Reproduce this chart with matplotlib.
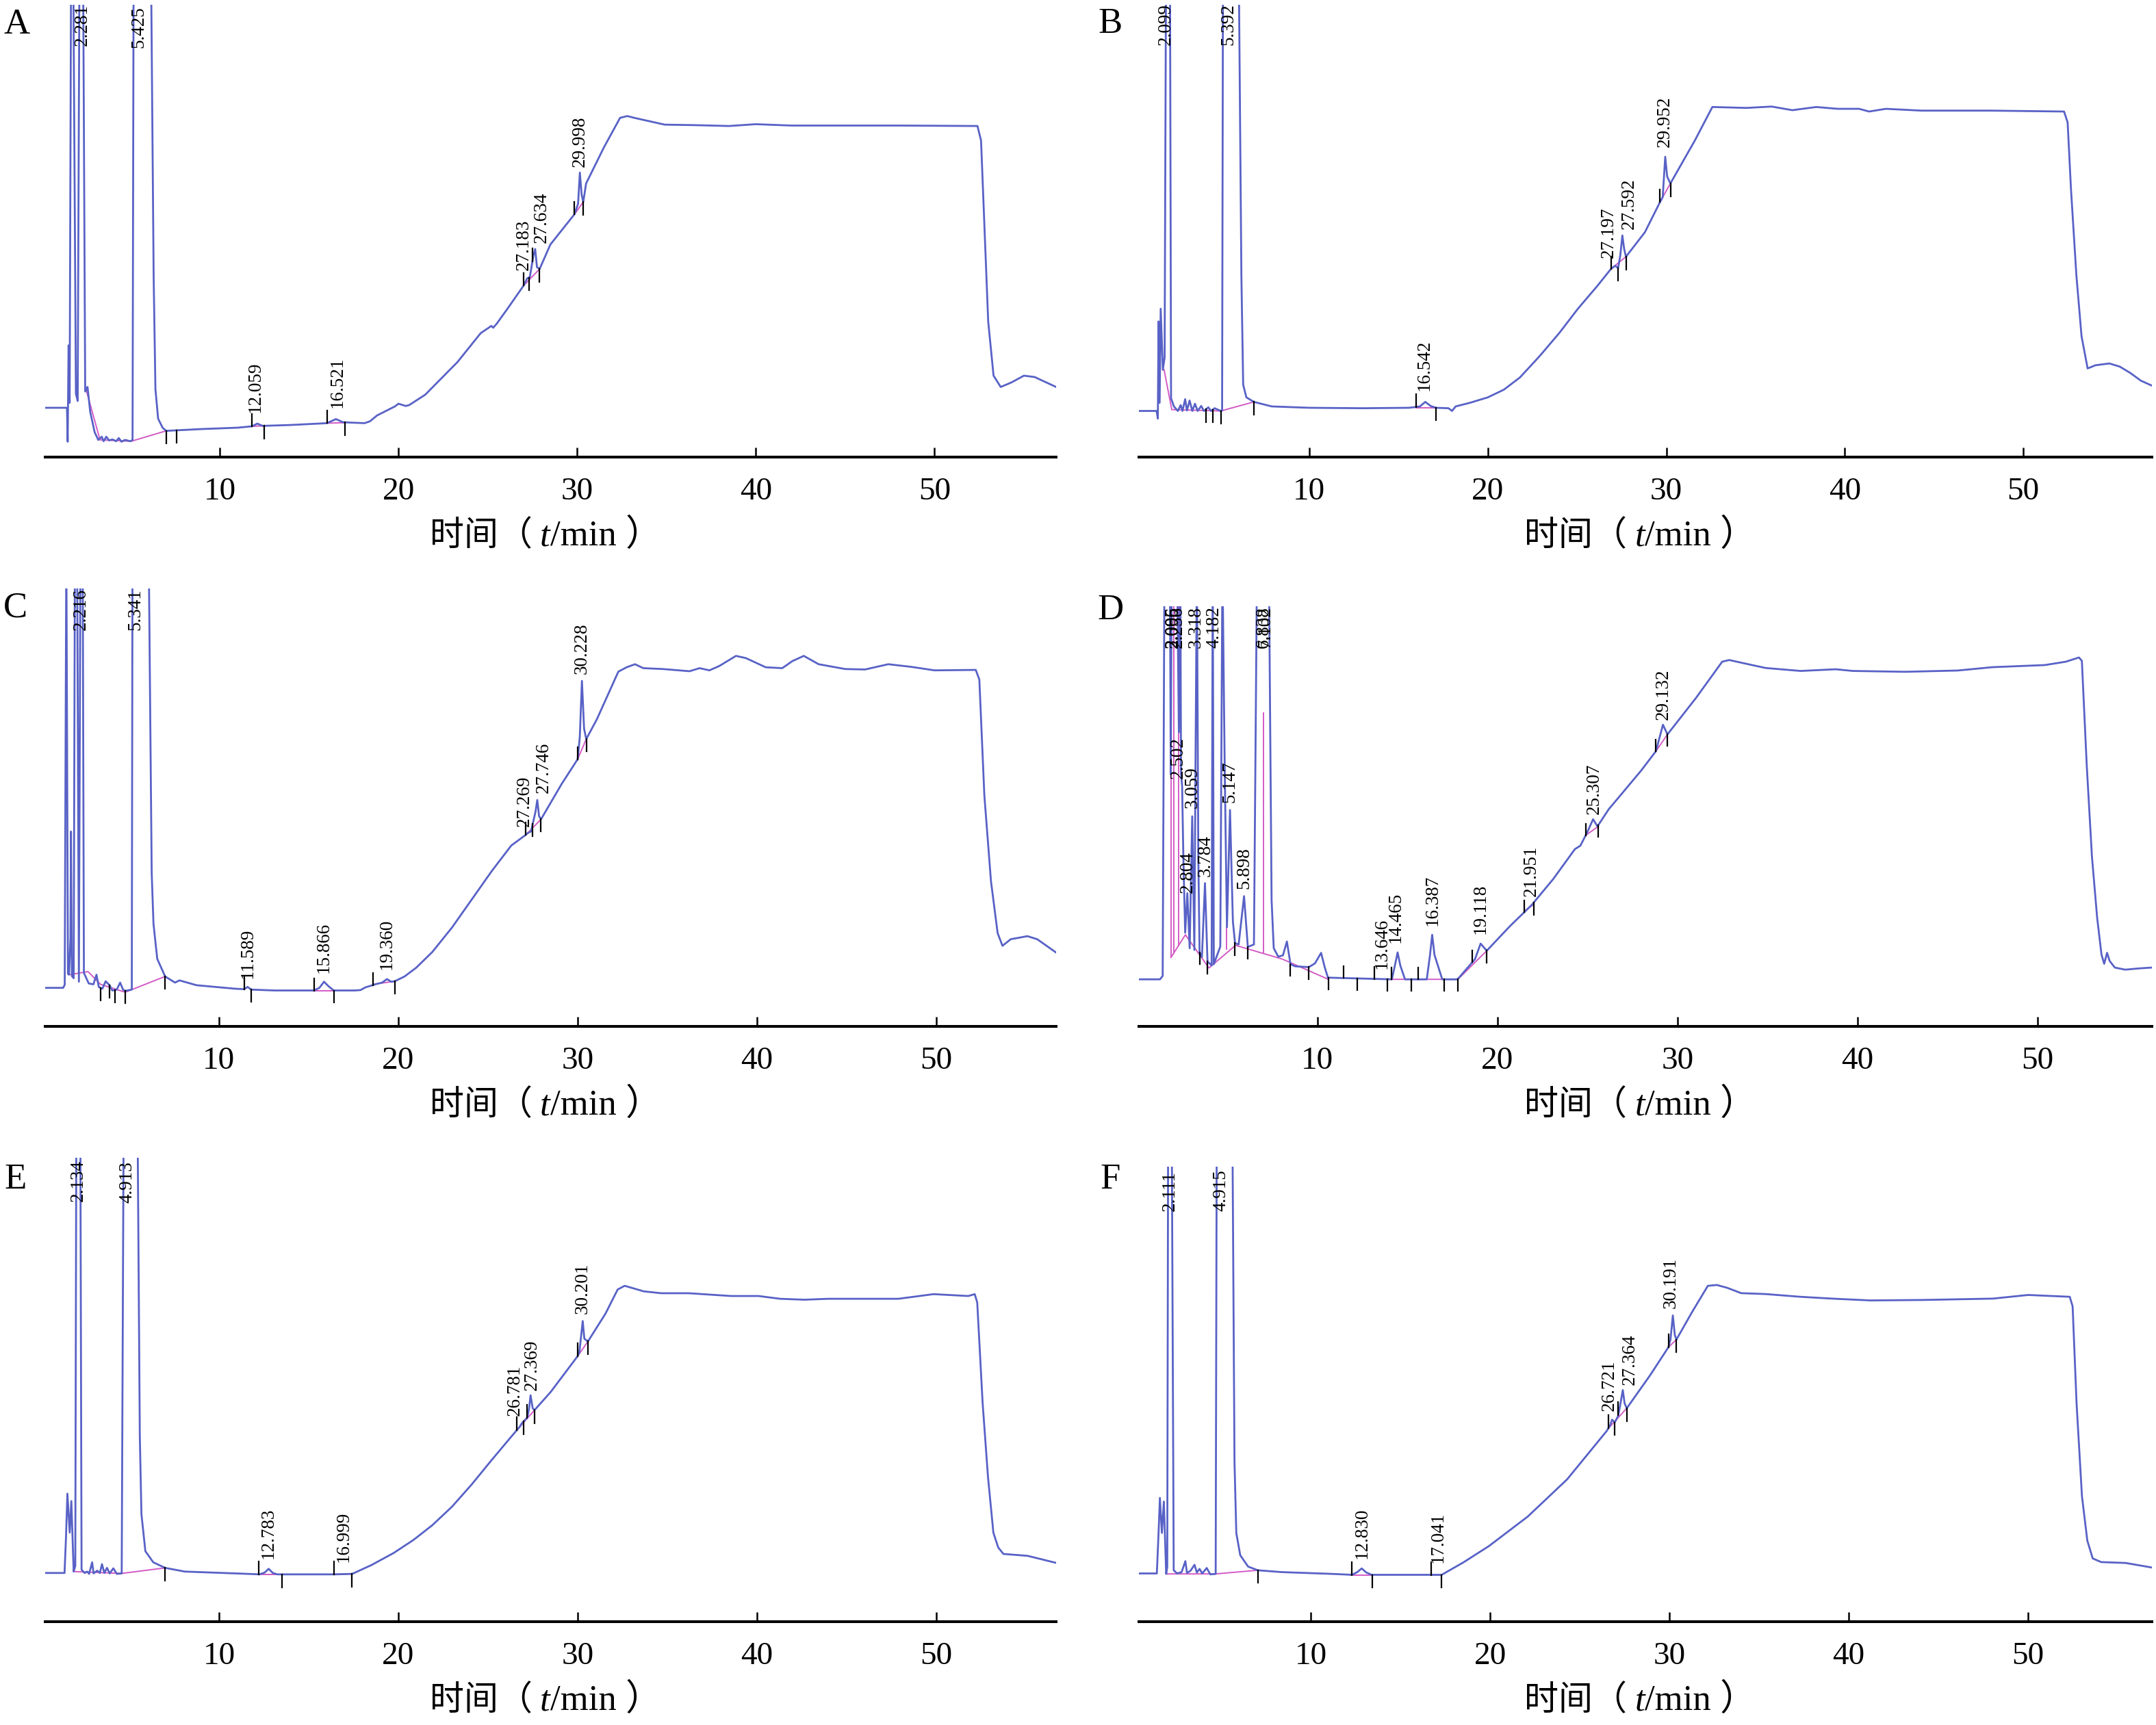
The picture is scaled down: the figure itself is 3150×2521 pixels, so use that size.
import numpy as np
import matplotlib
matplotlib.use("Agg")
import matplotlib.pyplot as plt
from matplotlib.offsetbox import TextArea, HPacker, AnnotationBbox

plt.rcParams['font.family'] = ['Liberation Serif', 'Noto Sans CJK SC']

#---------------------------------------------------------- traces (time / min, signal as % of panel height)
A_trace = [(0.25, 10.9), (1.35, 10.9), (1.45, 10.9), (1.49, 3.4), (1.54, 24.7), (1.60, 12.0), (1.68, 110),
           (1.80, 110), (1.95, 14.0), (2.05, 12.4), (2.15, 110), (2.35, 110), (2.47, 14.5), (2.60, 15.5),
           (2.75, 10.0), (3.00, 5.5), (3.20, 3.8), (3.40, 4.5), (3.50, 3.5), (3.65, 4.5), (3.80, 3.7),
           (4.00, 3.9), (4.20, 3.5), (4.35, 4.2), (4.50, 3.4), (4.70, 3.8), (5.00, 3.5), (5.12, 3.8),
           (5.18, 110), (6.15, 110), (6.30, 40), (6.40, 15), (6.55, 8.5), (6.80, 6.5), (7.00, 5.8),
           (7.50, 5.9), (9.00, 6.2), (11.0, 6.5), (11.8, 6.8), (12.1, 7.4), (12.4, 6.9), (14.0, 7.1),
           (16.0, 7.5), (16.5, 8.4), (16.9, 7.7), (18.1, 7.5), (18.4, 7.9), (18.8, 9.2), (19.8, 11.2),
           (20.0, 11.8), (20.4, 11.3), (20.6, 11.5), (21.5, 13.8), (22.2, 16.6), (23.3, 21.0), (24.6, 27.4),
           (25.2, 29.0), (25.3, 28.6), (25.5, 29.5), (26.1, 32.8), (27.0, 37.9), (27.2, 39.5), (27.35, 39.8),
           (27.55, 44.5), (27.65, 46.0), (27.75, 42.0), (27.9, 41.6), (28.5, 47.0), (29.85, 53.7),
           (30.05, 56.0), (30.15, 62.9), (30.25, 58.0), (30.34, 56.4), (30.5, 60.5), (30.7, 62.1),
           (31.5, 68.5), (32.4, 75.0), (32.8, 75.4), (33.2, 75.0), (34.9, 73.5), (36.5, 73.4), (38.5, 73.2),
           (40.0, 73.6), (42.0, 73.3), (45.0, 73.3), (48.0, 73.3), (52.4, 73.2), (52.6, 70.0), (52.8, 50.0),
           (53.0, 30.0), (53.3, 18.0), (53.7, 15.5), (54.3, 16.5), (55.0, 18.0), (55.6, 17.7), (56.8, 15.5)]

B_trace = [(0.46, 10.2), (1.45, 10.2), (1.52, 8.5), (1.56, 30), (1.62, 12), (1.68, 32.8), (1.80, 19.3),
           (1.90, 22), (1.98, 110), (2.20, 110), (2.26, 13), (2.42, 11.2), (2.64, 10.2), (2.80, 11.5),
           (2.90, 10.2), (3.05, 12.8), (3.15, 10.3), (3.30, 12.5), (3.45, 10.2), (3.60, 11.8), (3.75, 10.2),
           (3.95, 11.3), (4.10, 10.2), (4.35, 11.0), (4.50, 10.2), (4.70, 10.8), (5.05, 10.2), (5.12, 10.3),
           (5.17, 110), (6.05, 110), (6.20, 40), (6.30, 16), (6.48, 13.2), (6.90, 12.2), (7.90, 11.2),
           (10.0, 10.9), (13.0, 10.8), (15.6, 10.9), (16.2, 11.2), (16.5, 12.2), (16.8, 11.3), (17.1, 10.9),
           (17.8, 10.8), (18.0, 10.2), (18.2, 11.2), (19.0, 12.0), (20.0, 13.2), (20.9, 14.9), (21.8, 17.6),
           (22.9, 22.3), (24.0, 27.4), (25.05, 32.8), (26.15, 37.9), (26.9, 41.6), (27.14, 42.3),
           (27.3, 41.8), (27.42, 44.5), (27.54, 49.0), (27.64, 46.0), (27.74, 44.3), (28.8, 49.7),
           (29.65, 56.4), (29.8, 57.5), (29.94, 66.4), (30.05, 62.0), (30.23, 60.5), (31.6, 70.0),
           (32.58, 77.4), (34.5, 77.2), (35.9, 77.5), (37.06, 76.7), (38.4, 77.4), (39.6, 77.0), (40.8, 77.0),
           (41.36, 76.4), (42.3, 77.0), (44.3, 76.6), (48.2, 76.6), (52.28, 76.4), (52.48, 74.0),
           (52.67, 59.1), (52.97, 40.2), (53.26, 26.7), (53.6, 19.6), (54.04, 20.3), (54.82, 20.7),
           (55.4, 20.0), (55.99, 18.6), (56.58, 16.9), (57.2, 15.8)]

C_trace = [(0.3, 8.8), (1.31, 8.8), (1.40, 9.5), (1.49, 110), (1.58, 12.0), (1.64, 11.8), (1.72, 20),
           (1.75, 44.5), (1.80, 11.5), (1.90, 11.0), (1.97, 110), (2.09, 110), (2.19, 10.2), (2.28, 110),
           (2.40, 110), (2.47, 12.2), (2.74, 9.8), (3.00, 9.6), (3.17, 11.8), (3.30, 9.0), (3.50, 8.6),
           (3.68, 10.3), (3.90, 9.4), (4.05, 8.2), (4.30, 8.4), (4.49, 10.0), (4.65, 8.4), (4.77, 8.1),
           (5.14, 8.4), (5.18, 110), (6.08, 110), (6.25, 35), (6.35, 23.4), (6.56, 15.4), (7.00, 11.4),
           (7.55, 10.0), (7.80, 10.5), (8.75, 9.4), (10.9, 8.6), (11.4, 8.5), (11.6, 9.0), (11.8, 8.4),
           (13.1, 8.2), (15.3, 8.2), (15.6, 8.8), (15.86, 10.2), (16.1, 9.2), (16.4, 8.2), (17.6, 8.2),
           (17.9, 8.3), (18.16, 8.9), (18.8, 9.7), (19.1, 10.0), (19.37, 10.8), (19.6, 10.2), (19.8, 10.3),
           (20.35, 11.4), (21.0, 13.4), (21.9, 17.0), (23.0, 22.6), (24.1, 29.0), (25.2, 35.4), (26.3, 41.3),
           (27.13, 43.8), (27.24, 44.2), (27.4, 44.5), (27.65, 49.0), (27.75, 51.7), (27.85, 48.0),
           (27.96, 47.3), (29.1, 55.3), (30.0, 61.0), (30.12, 66.0), (30.24, 78.9), (30.36, 68.0),
           (30.48, 65.6), (31.07, 70.1), (32.27, 81.0), (32.73, 82.0), (33.2, 82.7), (33.66, 81.8),
           (34.76, 81.6), (36.24, 81.1), (36.8, 81.8), (37.35, 81.3), (37.9, 82.3), (38.83, 84.6),
           (39.38, 84.1), (40.49, 82.0), (41.41, 81.8), (41.97, 83.4), (42.61, 84.6), (43.44, 82.7),
           (44.92, 81.6), (46.03, 81.5), (47.32, 82.7), (48.6, 82.1), (49.9, 81.3), (52.2, 81.4),
           (52.4, 79.2), (52.68, 52.7), (53.05, 33.1), (53.42, 21.3), (53.69, 18.4), (54.15, 19.9),
           (55.08, 20.6), (55.63, 19.9), (56.7, 16.8)]

D_trace = [(0.08, 11.2), (1.25, 11.2), (1.40, 12.0), (1.50, 110), (1.80, 110), (1.85, 60), (1.90, 110),
           (2.20, 110), (2.30, 70), (2.38, 110), (2.42, 60), (2.48, 57.2), (2.55, 40), (2.65, 22.3),
           (2.77, 31.7), (2.90, 18.6), (3.04, 50.0), (3.16, 18.2), (3.22, 60), (3.30, 110), (3.38, 40),
           (3.45, 17.6), (3.58, 16.5), (3.75, 34.1), (3.89, 15.4), (4.00, 15.0), (4.12, 14.5), (4.18, 110),
           (4.24, 14.8), (4.60, 19.0), (4.72, 110), (4.85, 60), (4.97, 23.6), (5.14, 51.5), (5.30, 25.0),
           (5.42, 19.8), (5.62, 19.5), (5.92, 31.0), (6.13, 18.9), (6.47, 19.5), (6.64, 110), (7.30, 110),
           (7.45, 30), (7.57, 18.6), (7.82, 16.6), (8.08, 16.9), (8.30, 20.2), (8.50, 14.8), (8.76, 14.3),
           (9.52, 14.1), (9.86, 15.0), (10.2, 17.5), (10.4, 14.1), (10.58, 11.6), (14.13, 11.2),
           (14.3, 14.5), (14.45, 17.6), (14.6, 14.5), (14.86, 11.2), (16.07, 11.2), (16.25, 17.0),
           (16.37, 21.8), (16.5, 17.0), (16.93, 11.2), (17.78, 11.2), (18.75, 16.0), (19.06, 19.7),
           (19.4, 18.0), (20.7, 23.9), (21.9, 28.9), (23.1, 35.1), (24.3, 42.2), (24.6, 43.0), (24.95, 45.9),
           (25.31, 49.3), (25.55, 47.6), (26.18, 51.7), (26.77, 54.7), (27.98, 60.9), (28.8, 65.5),
           (29.19, 71.8), (29.44, 69.5), (31.03, 78.2), (32.48, 86.8), (32.87, 87.2), (33.93, 86.2),
           (34.9, 85.3), (36.84, 84.6), (38.78, 85.0), (39.75, 84.6), (42.65, 84.4), (45.56, 84.7),
           (47.5, 85.5), (50.4, 86.0), (51.57, 86.8), (52.3, 87.8), (52.46, 87.0), (52.73, 62.2),
           (53.02, 40.4), (53.31, 25.8), (53.55, 17.1), (53.7, 14.9), (53.86, 17.5), (54.0, 15.6),
           (54.29, 14.0), (54.87, 13.5), (55.64, 13.8), (56.35, 14.0)]

E_trace = [(0.27, 10.5), (1.38, 10.5), (1.46, 18), (1.54, 27.6), (1.67, 19.2), (1.76, 26.0), (1.89, 10.8),
           (1.98, 12.0), (2.04, 110), (2.26, 110), (2.33, 11.2), (2.50, 10.5), (2.65, 10.8), (2.75, 10.3),
           (2.92, 12.8), (3.00, 10.4), (3.20, 11.0), (3.35, 10.5), (3.47, 12.4), (3.60, 10.5), (3.75, 11.6),
           (3.90, 10.4), (4.10, 11.5), (4.30, 10.3), (4.57, 10.4), (4.68, 110), (5.45, 110), (5.58, 40),
           (5.67, 23.2), (5.89, 15.2), (6.33, 12.8), (6.99, 11.6), (8.09, 10.8), (10.95, 10.4),
           (12.26, 10.2), (12.55, 10.6), (12.77, 11.4), (13.0, 10.5), (13.25, 10.2), (16.44, 10.2),
           (17.43, 10.3), (18.5, 12.2), (19.74, 14.8), (20.84, 17.6), (21.9, 20.8), (23.0, 24.8),
           (24.1, 29.6), (25.2, 34.8), (26.33, 40.0), (26.77, 42.0), (26.9, 42.8), (27.2, 44.0), (27.3, 46.0),
           (27.38, 48.8), (27.5, 46.0), (27.6, 45.6), (28.5, 49.5), (30.0, 57.2), (30.1, 58.0),
           (30.29, 64.8), (30.38, 61.0), (30.58, 60.4), (31.56, 66.4), (32.24, 71.6), (32.63, 72.4),
           (33.7, 71.2), (34.67, 70.8), (36.2, 70.8), (38.57, 70.2), (40.1, 70.2), (41.3, 69.6),
           (42.66, 69.4), (44.0, 69.6), (47.9, 69.6), (49.86, 70.6), (51.8, 70.2), (52.16, 70.6),
           (52.3, 68.8), (52.6, 47.2), (52.9, 31.2), (53.2, 19.2), (53.47, 16.0), (53.76, 14.6),
           (55.1, 14.2), (56.78, 12.6)]

F_trace = [(0.42, 10.6), (1.42, 10.6), (1.52, 20), (1.59, 27.2), (1.70, 19.5), (1.81, 26.4), (1.94, 10.5),
           (2.00, 12), (2.05, 110), (2.25, 110), (2.36, 11.3), (2.55, 10.6), (2.80, 10.9), (3.01, 13.3),
           (3.10, 10.7), (3.30, 11.2), (3.52, 12.5), (3.65, 10.8), (3.80, 11.6), (3.95, 10.6), (4.20, 11.8),
           (4.40, 10.4), (4.70, 10.5), (4.76, 110), (5.63, 110), (5.75, 35), (5.85, 19.5), (6.07, 14.6),
           (6.51, 12.1), (7.05, 11.3), (8.36, 10.9), (11.2, 10.5), (12.3, 10.3), (12.6, 10.9),
           (12.84, 11.7), (13.1, 10.8), (13.4, 10.3), (17.3, 10.3), (18.5, 13.0), (19.93, 16.6),
           (22.1, 23.1), (24.3, 31.3), (26.5, 41.9), (26.7, 43.2), (26.8, 44.4), (26.95, 43.8),
           (27.14, 45.2), (27.25, 47.5), (27.4, 50.9), (27.5, 48.0), (27.62, 46.9), (28.93, 54.2),
           (29.94, 60.3), (30.06, 62.0), (30.19, 67.3), (30.3, 63.0), (30.39, 62.0), (31.27, 68.1),
           (32.14, 73.8), (32.63, 74.0), (33.2, 73.4), (34.0, 72.2), (35.36, 72.0), (37.3, 71.4),
           (39.06, 71.0), (41.2, 70.6), (44.1, 70.7), (48.03, 71.0), (50.0, 71.8), (52.32, 71.4),
           (52.48, 69.3), (52.7, 48.0), (53.0, 27.6), (53.3, 17.8), (53.6, 13.9), (54.07, 13.1),
           (55.44, 12.9), (56.9, 11.9)]

#---------------------------------------------------------- peak labels
A_lab = ['2.281', '5.425', '12.059', '16.521', '27.183', '27.634', '29.998']
A_lab_t = [2.30, 5.48, 12.0, 16.6, 27.0, 28.0, 30.17]
A_lab_y = [90.9, 90.5, 9.9, 10.9, 41.3, 47.3, 64.2]

B_lab = ['2.099', '5.392', '16.542', '27.197', '27.592', '29.952']
B_lab_t = [1.98, 5.49, 16.44, 26.77, 27.91, 29.93]
B_lab_y = [91.0, 91.0, 14.6, 44.0, 50.4, 68.6]

C_lab = ['2.216', '5.341', '11.589', '15.866', '19.360', '27.269', '27.746', '30.228']
C_lab_t = [2.30, 5.36, 11.6, 15.86, 19.37, 27.02, 28.1, 30.24]
C_lab_y = [90.4, 90.4, 11.0, 12.2, 13.0, 45.7, 53.3, 80.4]

D_lab = ['2.005', '2.096', '2.256', '3.318', '4.182', '6.838', '7.102', '2.502', '3.059', '2.804',
         '3.784', '5.147', '5.898', '13.646', '14.465', '16.387', '19.118', '21.951', '25.307', '29.132']
D_lab_t = [1.96, 2.00, 2.22, 3.24, 4.26, 7.00, 7.12, 2.25, 3.04, 2.78,
           3.79, 5.13, 5.93, 13.6, 14.36, 16.39, 19.05, 21.88, 25.38, 29.2]
D_lab_y = [90.0, 90.0, 90.0, 90.0, 90.0, 90.0, 90.0, 59.0, 51.9, 31.7,
           35.7, 53.2, 32.8, 13.7, 19.8, 23.9, 22.0, 31.0, 50.5, 73.0]

E_lab = ['2.134', '4.913', '12.783', '16.999', '26.781', '27.369', '30.201']
E_lab_t = [2.15, 4.90, 12.77, 16.95, 26.5, 27.47, 30.29]
E_lab_y = [90.6, 90.2, 13.6, 12.8, 44.4, 49.8, 66.4]

F_lab = ['2.111', '4.915', '12.830', '17.041', '26.721', '27.364', '30.191']
F_lab_t = [2.16, 5.00, 12.86, 17.1, 26.64, 27.8, 30.09]
F_lab_y = [90.2, 90.2, 13.9, 12.9, 46.3, 52.0, 68.9]

#---------------------------------------------------------- integration baselines and peak start / end marks
A_base = [[(2.47, 15.6), (3.3, 3.8), (5.05, 3.5), (7.0, 5.8)], [(11.8, 6.8), (12.5, 6.9)],
          [(16.0, 7.5), (17.0, 7.6)], [(27.0, 37.9), (27.9, 41.6)], [(29.85, 53.7), (30.34, 56.4)]]
B_base = [[(1.87, 19.3), (2.3, 10.5), (5.05, 10.2), (6.9, 12.2)], [(16.0, 10.9), (17.1, 10.9)],
          [(26.9, 41.6), (27.74, 44.3)], [(29.65, 56.4), (30.23, 60.5)]]
C_base = [[(1.64, 11.8), (2.7, 12.5), (3.4, 9.6), (4.77, 7.8), (7.0, 11.4)], [(15.3, 8.2), (16.4, 8.2)],
          [(18.6, 9.6), (19.8, 10.3)], [(27.13, 43.8), (27.96, 47.3)], [(30.0, 61.0), (30.48, 65.6)]]
D_base = [[(1.86, 16.4), (2.66, 21.8), (3.97, 13.9), (5.45, 19.3), (8.06, 16.0), (10.6, 11.2)],
          [(13.9, 11.2), (17.8, 11.2), (19.4, 18.0)], [(21.5, 27.5), (22.0, 29.0)],
          [(24.9, 45.5), (25.6, 47.6)], [(28.8, 65.5), (29.44, 69.5)],
          [(1.86, 16.4), (1.86, 110)], [(2.02, 17.5), (2.02, 110)], [(2.27, 19.2), (2.27, 110)],
          [(4.95, 18.4), (4.95, 23.6)], [(7.0, 17.4), (7.0, 74.6)]]
E_base = [[(1.9, 10.8), (4.57, 10.4), (7.0, 11.6)], [(12.2, 10.2), (13.5, 10.2)],
          [(16.4, 10.2), (17.4, 10.3)], [(26.6, 41.2), (27.6, 45.6)], [(30.0, 57.2), (30.58, 60.4)]]
F_base = [[(1.95, 10.5), (4.7, 10.5), (7.05, 11.3)], [(12.3, 10.3), (13.4, 10.3)],
          [(16.7, 10.3), (17.3, 10.3)], [(26.6, 42.5), (27.62, 46.9)], [(29.94, 60.3), (30.39, 62.0)]]

A_up, A_down = [11.8, 16.0, 27.0, 27.5, 29.85], [7.0, 7.6, 12.5, 17.0, 27.3, 27.9, 30.34]
B_up, B_down = [16.0, 26.9, 29.65], [4.2, 4.6, 5.05, 6.9, 17.1, 27.3, 27.74, 30.23]
C_up, C_down = [11.4, 15.3, 18.6, 27.1, 30.0], [3.4, 3.9, 4.2, 4.77, 7.0, 11.8, 16.4, 19.8, 27.5, 27.96, 30.48]
D_up = [11.45, 13.15, 14.1, 15.6, 18.6, 21.5, 24.9, 28.8]
D_down = [3.45, 3.89, 5.42, 6.13, 8.5, 9.52, 10.6, 12.2, 13.9, 15.2, 17.05, 17.8, 19.4, 22.0, 25.6, 29.44]
E_up, E_down = [12.2, 16.4, 26.6, 27.2, 30.0], [7.0, 13.5, 17.4, 27.0, 27.6, 30.58]
F_up, F_down = [12.3, 16.7, 26.6, 27.15, 29.94], [7.05, 13.45, 17.3, 26.95, 27.62, 30.39]

ticks = [10, 20, 30, 40, 50]
xlabel_parts = ['时间（ ', 't', '/min ）']

#---------------------------------------------------------- layout (pixels of the 3150x2521 picture) and styles
W, H = 3150, 2521
trace_col = "#5862c6"
base_col = "#d35ac6"

panels = [
    ('A', A_trace, A_lab, A_lab_t, A_lab_y, A_base, A_up, A_down, (0.23, 56.8), (66, 668, 1543, 7), (5, 12)),
    ('B', B_trace, B_lab, B_lab_t, B_lab_y, B_base, B_up, B_down, (0.46, 57.2), (1664, 668, 3144, 7), (1604, 11)),
    ('C', C_trace, C_lab, C_lab_t, C_lab_y, C_base, C_up, C_down, (0.31, 56.68), (66, 1500, 1543, 860), (5, 865)),
    ('D', D_trace, D_lab, D_lab_t, D_lab_y, D_base, D_up, D_down, (0.08, 56.35), (1664, 1500, 3144, 886), (1603, 868)),
    ('E', E_trace, E_lab, E_lab_t, E_lab_y, E_base, E_up, E_down, (0.30, 56.7), (66, 2370, 1543, 1692), (6, 1700)),
    ('F', F_trace, F_lab, F_lab_t, F_lab_y, F_base, F_up, F_down, (0.42, 56.9), (1664, 2370, 3144, 1705), (1607, 1700)),
]

fig = plt.figure(figsize=(W / 100, H / 100), dpi=100)

for letter, trace, lab, lab_t, lab_y, base, up, down, xlim, box, lxy in panels:
    x0, yb, x1, yt = box
    ax = fig.add_axes([x0 / W, 1 - yb / H, (x1 - x0) / W, (yb - yt) / H])
    t, y = np.array(trace).T

    for seg in base:
        bt, by = np.array(seg).T
        ax.plot(bt, by, color=base_col, lw=1.4, zorder=2)
    ax.plot(t, y, color=trace_col, lw=2.0, zorder=3)

    # peak start (up) and end (down) marks sitting on the trace
    for tm in up:
        y0 = np.interp(tm, t, y)
        ax.plot([tm, tm], [y0, y0 + 2.8], color='black', lw=1.6, zorder=4)
    for tm in down:
        y0 = np.interp(tm, t, y)
        ax.plot([tm, tm], [y0 - 2.8, y0], color='black', lw=1.6, zorder=4)

    for s, tx, ty in zip(lab, lab_t, lab_y):
        ax.text(tx, ty, s, rotation=90, ha='center', va='bottom', fontsize=19.5, clip_on=True)

    ax.set_xlim(xlim)
    ax.set_ylim(0, 100)
    for sp in ['top', 'left', 'right']:
        ax.spines[sp].set_visible(False)
    ax.spines['bottom'].set_linewidth(2.9)
    ax.set_yticks([])
    ax.set_xticks(ticks)
    ax.tick_params(axis='x', direction='in', length=10, width=1.8, pad=21, labelsize=34)

    # x label: Chinese + italic t + roman unit, packed on one baseline
    parts = [TextArea(xlabel_parts[0], textprops=dict(family=['Noto Sans CJK SC'], size=36)),
             TextArea(xlabel_parts[1], textprops=dict(family='Liberation Serif', style='italic', size=38)),
             TextArea(xlabel_parts[2], textprops=dict(family=['Liberation Serif', 'Noto Sans CJK SC'], size=38))]
    pack = HPacker(children=parts, align='baseline', pad=0, sep=0)
    ab = AnnotationBbox(pack, (0.495, -115), xycoords=('axes fraction', 'axes pixels'),
                        frameon=False, box_alignment=(0.5, 0.5), annotation_clip=False)
    ax.add_artist(ab)

    fig.text(lxy[0] / W, 1 - lxy[1] / H, letter, fontsize=38, ha='left', va='top')

fig.savefig('out.png', dpi=100)
